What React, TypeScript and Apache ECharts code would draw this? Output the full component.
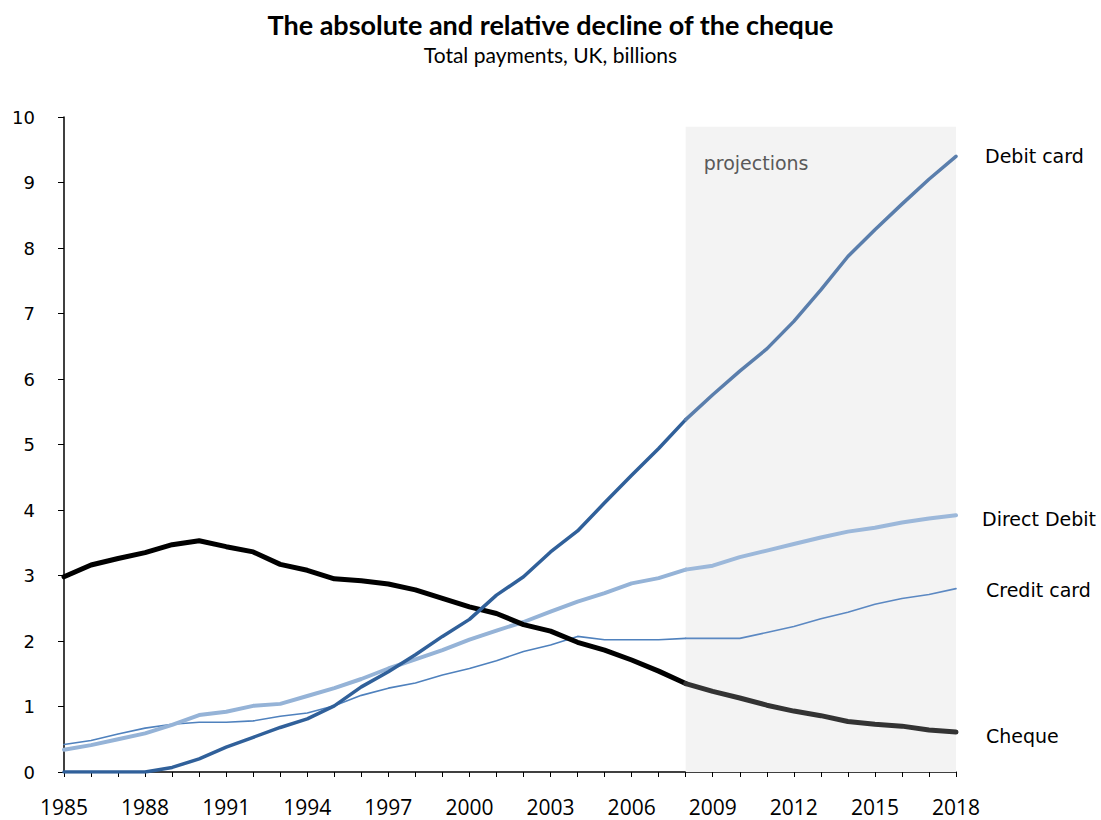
import React, { useEffect, useRef } from "react";
import * as echarts from "echarts";

const years = Array.from({ length: 34 }, (_, i) => String(1985 + i));
const projectionStart = "2008";

const cheque = [2.98, 3.16, 3.26, 3.35, 3.47, 3.53, 3.44, 3.36, 3.17, 3.08, 2.95, 2.92, 2.87, 2.78, 2.65, 2.52, 2.42, 2.25, 2.15, 1.98, 1.86, 1.71, 1.54, 1.35, 1.23, 1.13, 1.02, 0.93, 0.86, 0.77, 0.73, 0.70, 0.64, 0.61];
const debitCard = [0.0, 0.0, 0.0, 0.0, 0.07, 0.2, 0.38, 0.53, 0.68, 0.81, 1.01, 1.3, 1.53, 1.79, 2.07, 2.33, 2.7, 2.98, 3.36, 3.68, 4.11, 4.53, 4.94, 5.38, 5.76, 6.12, 6.46, 6.88, 7.36, 7.87, 8.28, 8.67, 9.05, 9.4];
const directDebit = [0.34, 0.41, 0.5, 0.59, 0.72, 0.87, 0.92, 1.01, 1.04, 1.16, 1.28, 1.42, 1.58, 1.72, 1.86, 2.02, 2.16, 2.29, 2.45, 2.6, 2.73, 2.88, 2.96, 3.09, 3.15, 3.28, 3.38, 3.48, 3.58, 3.67, 3.73, 3.81, 3.87, 3.92];
const creditCard = [0.42, 0.48, 0.58, 0.67, 0.73, 0.76, 0.76, 0.78, 0.85, 0.9, 1.01, 1.17, 1.28, 1.36, 1.48, 1.58, 1.7, 1.84, 1.94, 2.07, 2.02, 2.02, 2.02, 2.04, 2.04, 2.04, 2.13, 2.22, 2.34, 2.44, 2.56, 2.65, 2.71, 2.8];
const yTicks = [0, 1, 2, 3, 4, 5, 6, 7, 8, 9, 10];

export default function App() {
  const ref = useRef<HTMLDivElement>(null);
  useEffect(() => {
    if (!ref.current) return;
    const chart = echarts.init(ref.current, null, { renderer: "svg" });
    const splitIdx = years.indexOf(projectionStart);
    const hist = (arr: number[]) => arr.map((v, i) => (i <= splitIdx ? v : null));
    const proj = (arr: number[]) => arr.map((v, i) => (i >= splitIdx ? v : null));
    const labelFont = { fontFamily: "DejaVu Sans", fontSize: 19, color: "#000" };

    const mk = (name: string, arr: number[], cH: string, cP: string, w: number, dist: number, dy: number, z: number) => [
      {
        name,
        type: "line",
        data: hist(arr),
        symbol: "none",
        z,
        lineStyle: { color: cH, width: w, cap: "round", join: "round" },
        itemStyle: { color: cH },
      },
      {
        name,
        type: "line",
        data: proj(arr),
        symbol: "none",
        z,
        lineStyle: { color: cP, width: w, cap: "round", join: "round" },
        itemStyle: { color: cP },
        endLabel: {
          show: true,
          formatter: name,
          distance: dist,
          offset: [0, dy],
          ...labelFont,
        },
      },
    ];

    chart.setOption({
      animation: false,
      title: {
        text: "The absolute and relative decline of the cheque",
        subtext: "Total payments, UK, billions",
        left: "center",
        top: 6,
        itemGap: 6,
        textStyle: { fontFamily: "Lato", fontWeight: "bold", fontSize: 27, color: "#000" },
        subtextStyle: { fontFamily: "Lato", fontSize: 21, color: "#000" },
      },
      grid: { left: 64, right: 145, top: 117, bottom: 48, containLabel: false },
      xAxis: {
        type: "category",
        data: years,
        boundaryGap: false,
        axisLine: { lineStyle: { color: "#000", width: 1.5 } },
        axisTick: { show: true, interval: 0, length: 5, lineStyle: { color: "#000" } },
        axisLabel: { interval: 2, margin: 24, fontFamily: "Open Sans", fontSize: 21, color: "#000" },
        splitLine: { show: false },
      },
      yAxis: {
        type: "value",
        min: yTicks[0],
        max: yTicks[yTicks.length - 1],
        interval: 1,
        axisLine: { show: true, lineStyle: { color: "#000", width: 1.5 } },
        axisTick: { show: true, length: 6, lineStyle: { color: "#000" } },
        axisLabel: { margin: 29, fontFamily: "DejaVu Sans", fontSize: 18, color: "#000" },
        splitLine: { show: false },
      },
      series: [
        {
          type: "line",
          data: [],
          silent: true,
          markArea: {
            silent: true,
            itemStyle: { color: "#f3f3f3" },
            label: {
              show: true,
              position: [18, 27],
              fontFamily: "DejaVu Sans",
              fontSize: 19,
              color: "#595959",
            },
            data: [[{ xAxis: projectionStart, yAxis: 0, name: "projections" }, { xAxis: years[years.length - 1], yAxis: 9.85 }]],
          },
        },
        ...mk("Credit card", creditCard, "#4f81bd", "#5b88c2", 1.6, 30, 1, 3),
        ...mk("Direct Debit", directDebit, "#95b3d7", "#9cb8da", 4, 26, 4, 4),
        ...mk("Cheque", cheque, "#000000", "#333333", 5, 30, 4, 5),
        ...mk("Debit card", debitCard, "#30609a", "#5a7eac", 3.5, 29, 0, 6),
      ],
    });
    return () => chart.dispose();
  }, []);
  return <div ref={ref} style={{ position: "fixed", left: 0, top: 0, width: 1101, height: 820, background: "#fff" }} />;
}
